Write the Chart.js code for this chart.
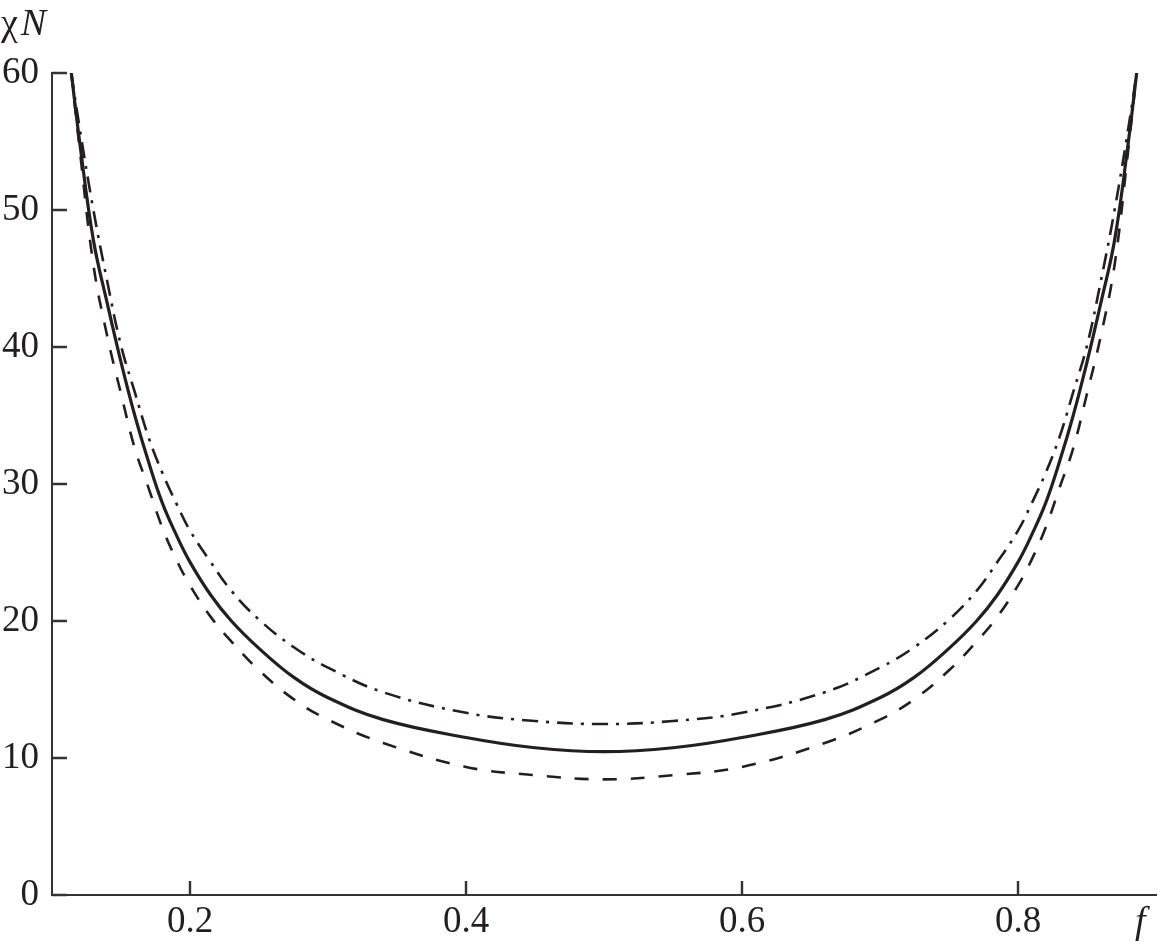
<!DOCTYPE html>
<html>
<head>
<meta charset="utf-8">
<script src="https://cdn.jsdelivr.net/npm/chart.js@4.4.1/dist/chart.umd.min.js"></script>
<style>
  html, body { margin: 0; padding: 0; background: #ffffff; }
  #wrap { width: 1161px; height: 948px; position: relative; }
</style>
</head>
<body>
<div id="wrap"><canvas id="c" width="1161" height="948"></canvas></div>
<script>
// ---- data ----
const fValues = [0.114, 0.120, 0.130, 0.140, 0.150, 0.160, 0.170, 0.180, 0.190, 0.200, 0.215, 0.230, 0.250, 0.275, 0.300, 0.340, 0.400, 0.450, 0.500,
                 0.550, 0.600, 0.660, 0.700, 0.725, 0.750, 0.770, 0.785, 0.800, 0.810, 0.820, 0.830, 0.840, 0.850, 0.860, 0.870, 0.880, 0.886];
const solidChiN   = [60, 55.0, 47.8, 43.2, 38.9, 35.0, 31.6, 28.6, 26.3, 24.3, 21.9, 20.0, 18.0, 15.9, 14.4, 12.8, 11.5, 10.75, 10.46,
                     10.75, 11.5, 12.8, 14.4, 15.9, 18.0, 20.0, 21.9, 24.3, 26.3, 28.6, 31.6, 35.0, 38.9, 43.2, 47.8, 55.0, 60];
const dashChiN    = [60, 54.5, 46.0, 40.8, 36.6, 32.6, 29.7, 26.8, 24.5, 22.6, 20.3, 18.5, 16.4, 14.3, 12.8, 11.1, 9.35, 8.75, 8.44,
                     8.75, 9.35, 11.1, 12.8, 14.3, 16.4, 18.5, 20.3, 22.6, 24.5, 26.8, 29.7, 32.6, 36.6, 40.8, 46.0, 54.5, 60];
const dashDotChiN = [60, 56.0, 50.0, 44.8, 40.1, 36.7, 33.4, 30.8, 28.6, 26.6, 24.3, 22.2, 20.1, 18.1, 16.6, 14.8, 13.3, 12.7, 12.48,
                     12.7, 13.3, 14.8, 16.6, 18.1, 20.1, 22.2, 24.3, 26.6, 28.6, 30.8, 33.4, 36.7, 40.1, 44.8, 50.0, 56.0, 60];
const xTicks = [0.2, 0.4, 0.6, 0.8];
const yTicks = [0, 10, 20, 30, 40, 50, 60];
const xTitle = "f";
const yTitleGreek = "χ";
const yTitleItalic = "N";

// ---- styling ----
const INK = '#231f20';
const AXIS = '#333333';
const FONT = "'Liberation Serif', 'Times New Roman', serif";

function pts(ys) { return fValues.map((f, i) => ({ x: f, y: ys[i] })); }

const innerTicksAndTitles = {
  id: 'innerTicksAndTitles',
  afterDraw(chart) {
    const ctx = chart.ctx, xs = chart.scales.x, ys = chart.scales.y, a = chart.chartArea;
    ctx.save();
    ctx.setLineDash([]);
    ctx.strokeStyle = AXIS; ctx.lineWidth = 2.4;
    ctx.beginPath();
    xTicks.forEach(v => { const px = xs.getPixelForValue(v); ctx.moveTo(px, a.bottom); ctx.lineTo(px, a.bottom - 14); });
    yTicks.forEach(v => { const py = ys.getPixelForValue(v); ctx.moveTo(a.left, py); ctx.lineTo(a.left + 15, py); });
    ctx.stroke();
    ctx.fillStyle = INK;
    ctx.textBaseline = 'alphabetic';
    ctx.textAlign = 'left';
    ctx.font = "38px " + FONT;
    ctx.fillText(yTitleGreek, 1, 35);
    const w = ctx.measureText(yTitleGreek).width;
    ctx.font = "italic 38px " + FONT;
    ctx.fillText(yTitleItalic, 1 + w + 3, 35);
    ctx.fillText(xTitle, 1135, 933);
    ctx.restore();
  }
};

new Chart(document.getElementById('c'), {
  type: 'line',
  data: {
    datasets: [
      { data: pts(solidChiN), borderColor: INK, borderWidth: 3.2, pointRadius: 0, tension: 0.4, fill: false },
      { data: pts(dashChiN), borderColor: INK, borderWidth: 2.6, borderDash: [14, 14], pointRadius: 0, tension: 0.4, fill: false },
      { data: pts(dashDotChiN), borderColor: INK, borderWidth: 2.6, borderDash: [16, 8, 3, 8], pointRadius: 0, tension: 0.4, fill: false }
    ]
  },
  options: {
    responsive: false,
    animation: false,
    events: [],
    layout: { padding: { top: 73, right: 5, left: 0, bottom: 0 } },
    plugins: { legend: { display: false }, tooltip: { enabled: false } },
    scales: {
      x: {
        type: 'linear', min: 0.1, max: 0.9,
        afterBuildTicks: s => { s.ticks = xTicks.map(v => ({ value: v })); },
        afterFit: s => { s.height = 53; },
        grid: { display: true, drawOnChartArea: false, drawTicks: false },
        border: { display: true, color: AXIS, width: 2 },
        ticks: { color: INK, font: { family: FONT, size: 37 }, padding: 5, maxRotation: 0,
                 callback: v => String(v) }
      },
      y: {
        type: 'linear', min: 0, max: 60,
        afterBuildTicks: s => { s.ticks = yTicks.map(v => ({ value: v })); },
        afterFit: s => { s.width = 52; },
        grid: { display: true, drawOnChartArea: false, drawTicks: false },
        border: { display: true, color: AXIS, width: 2 },
        ticks: { color: INK, font: { family: FONT, size: 37 }, padding: 13,
                 callback: v => String(v) }
      }
    }
  },
  plugins: [innerTicksAndTitles]
});
</script>
</body>
</html>
